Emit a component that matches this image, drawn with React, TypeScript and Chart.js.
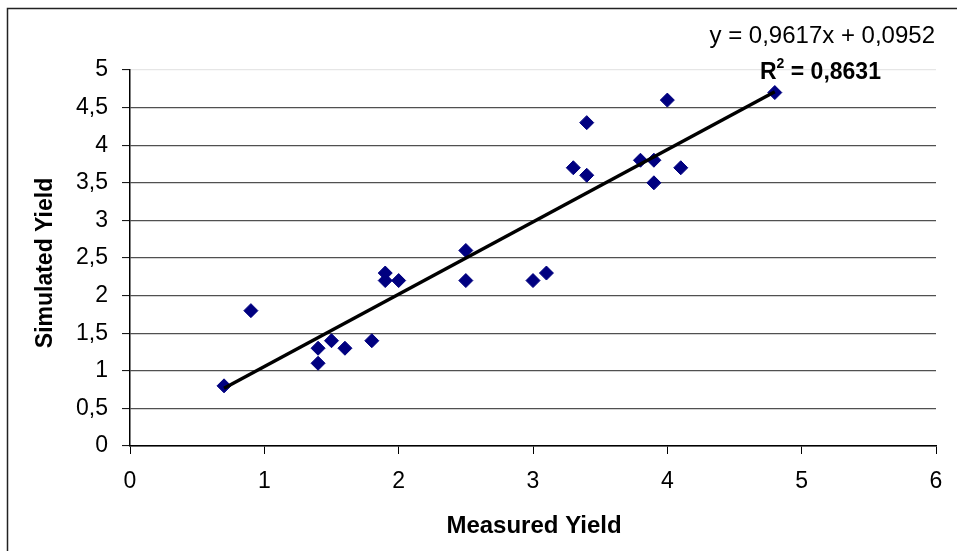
import React, { useEffect, useRef } from "react";
import { Chart, registerables } from "chart.js";

Chart.register(...registerables);

const measured = [0.7, 0.9, 1.4, 1.4, 1.5, 1.6, 1.8, 1.9, 1.9, 2.0, 2.5, 2.5, 3.0, 3.1, 3.3, 3.4, 3.4, 3.8, 3.9, 3.9, 4.0, 4.1, 4.8];
const simulated = [0.8, 1.8, 1.3, 1.1, 1.4, 1.3, 1.4, 2.3, 2.2, 2.2, 2.6, 2.2, 2.2, 2.3, 3.7, 3.6, 4.3, 3.8, 3.8, 3.5, 4.6, 3.7, 4.7];
const SLOPE = 0.9617;
const INTERCEPT = 0.0952;
const R2 = "0,8631";
const equationText = "y = 0,9617x + 0,0952";
const xTitle = "Measured Yield";
const yTitle = "Simulated Yield";

const FONT = '"Liberation Sans", Arial, sans-serif';

const fmt = (v: number) => String(v).replace(".", ",");

export default function App() {
  const ref = useRef<HTMLCanvasElement | null>(null);
  useEffect(() => {
    if (!ref.current) return;
    const xMin = Math.min(...measured);
    const xMax = Math.max(...measured);
    const trend = [
      { x: xMin, y: SLOPE * xMin + INTERCEPT },
      { x: xMax, y: SLOPE * xMax + INTERCEPT },
    ];
    const points = measured.map((x, i) => ({ x, y: simulated[i] }));

    const decor = {
      id: "decor",
      beforeDraw(chart: any) {
        const ctx = chart.ctx;
        ctx.save();
        ctx.fillStyle = "#fff";
        ctx.fillRect(0, 0, chart.width, chart.height);
        ctx.strokeStyle = "#222";
        ctx.lineWidth = 1.5;
        ctx.strokeRect(7.5, 8.5, 2000, 2000);
        ctx.restore();
      },
      afterDraw(chart: any) {
        const ctx = chart.ctx;
        const area = chart.chartArea;
        ctx.save();
        ctx.fillStyle = "#000";
        ctx.textAlign = "center";
        ctx.textBaseline = "middle";
        ctx.font = `bold 24px ${FONT}`;
        ctx.fillText(xTitle, 534, 526);
        ctx.save();
        ctx.translate(46, 263);
        ctx.rotate(-Math.PI / 2);
        ctx.font = `bold 23px ${FONT}`;
        ctx.fillText(yTitle, 0, 0);
        ctx.restore();
        // equation
        ctx.font = `24px ${FONT}`;
        ctx.textAlign = "right";
        ctx.fillText(equationText, 935, 36);
        // R^2
        ctx.textAlign = "left";
        let x = 760;
        ctx.font = `bold 23px ${FONT}`;
        ctx.fillText("R", x, 73);
        x += ctx.measureText("R").width;
        ctx.font = `bold 14px ${FONT}`;
        ctx.fillText("2", x, 64);
        x += ctx.measureText("2").width;
        ctx.font = `bold 23px ${FONT}`;
        ctx.fillText(" = " + R2, x, 73);
        ctx.restore();
      },
    };

    const chart = new Chart(ref.current, {
      type: "scatter",
      data: {
        datasets: [
          {
            type: "line",
            data: trend,
            borderColor: "#000",
            borderWidth: 3.5,
            pointRadius: 0,
            fill: false,
            order: 0,
          } as any,
          {
            data: points,
            backgroundColor: "#000080",
            borderColor: "#000080",
            pointStyle: "rectRot",
            pointRadius: 7,
            pointHoverRadius: 7,
            order: 1,
          },
        ],
      },
      options: {
        animation: false,
        responsive: false,
        events: [],
        layout: { padding: { left: 0, top: 70, right: 21, bottom: 0 } },
        plugins: { legend: { display: false }, tooltip: { enabled: false } },
        scales: {
          x: {
            type: "linear",
            min: 0,
            max: 6,
            afterFit: (s: any) => {
              s.height = 105;
            },
            ticks: {
              stepSize: 1,
              padding: 14,
              color: "#000",
              font: { family: FONT, size: 23 },
              callback: (v: any) => fmt(v),
            },
            grid: {
              drawOnChartArea: false,
              tickLength: 8,
              tickColor: "#000",
              tickWidth: 1,
            },
            border: { display: true, color: "#000", width: 1.5 },
          },
          y: {
            type: "linear",
            min: 0,
            max: 5,
            afterFit: (s: any) => {
              s.width = 130;
            },
            ticks: {
              stepSize: 0.5,
              padding: 14,
              color: "#000",
              font: { family: FONT, size: 23 },
              callback: (v: any) => fmt(v),
            },
            grid: {
              color: (c: any) => (c.tick && c.tick.value === 5 ? "#e6e6e6" : "#505050"),
              lineWidth: 1.2,
              tickLength: 8,
              tickColor: "#000",
              tickWidth: 1,
            },
            border: { display: true, color: "#000", width: 1.5 },
          },
        },
      },
      plugins: [decor],
    });
    return () => chart.destroy();
  }, []);
  return (
    <div style={{ position: "fixed", left: 0, top: 0, width: 957, height: 551, background: "#fff" }}>
      <canvas ref={ref} width={957} height={551} style={{ width: 957, height: 551 }} />
    </div>
  );
}
